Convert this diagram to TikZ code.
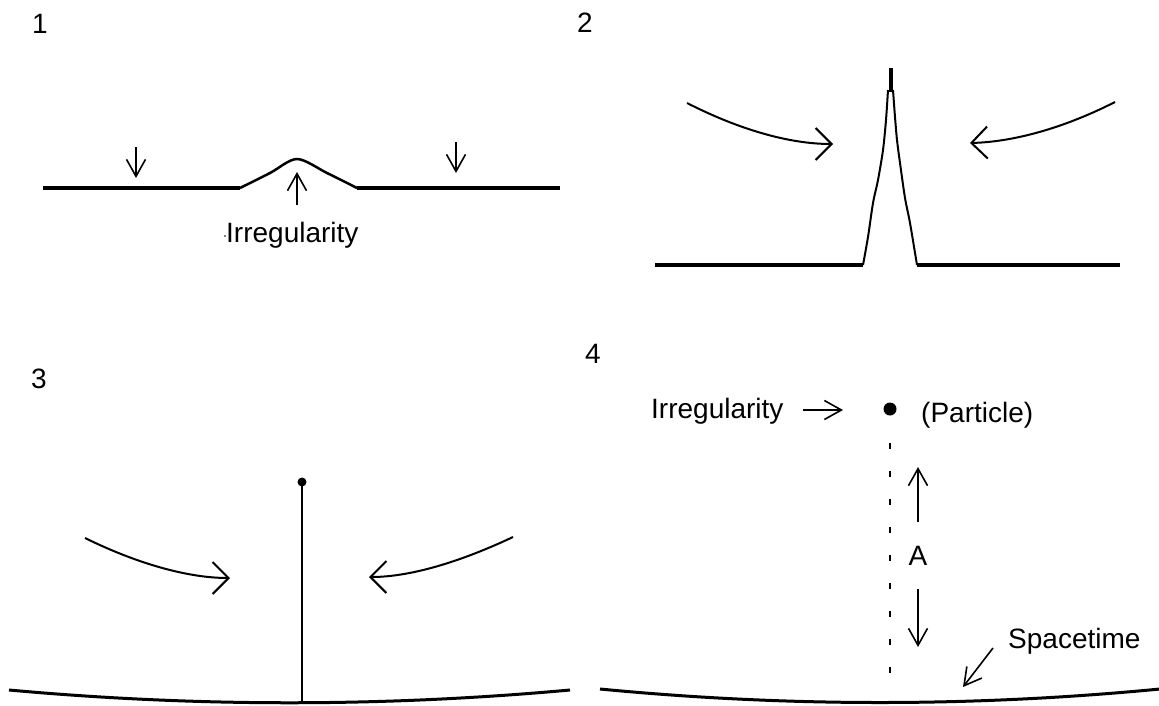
\documentclass[tikz,border=0pt]{standalone}
\usepackage{fontspec}
\setmainfont{Liberation Sans}
\usetikzlibrary{arrows.meta}
\begin{document}
\begin{tikzpicture}[x=1pt,y=-1pt,
  lbl/.style={inner sep=0pt, anchor=base, font=\fontsize{28}{32}\selectfont},
  lblw/.style={lbl, anchor=base west},
  ground/.style={line width=4pt},
  curveground/.style={line width=3pt},
  sa/.style={-{Straight Barb[length=17pt,width=19pt]}, line width=1.6pt},
  la/.style={-{Straight Barb[length=16pt,width=32pt]}, line width=2pt},
  spike/.style={line width=2pt, line join=round}]
\useasboundingbox (0,0) rectangle (1159,705);

% ---------- Panel 1 ----------
\node[lbl] (n1) at (40,33) {1};
\draw[ground] (43,188) -- (240,188);
\draw[ground] (357,188) -- (560,188);
\draw[line width=2.5pt, line join=round] plot[smooth, tension=0.5] coordinates {(240,188) (270,173) (297,159) (327,173) (357,188)};
\draw[sa] (136,147) -- (136,178);
\draw[sa] (456,142) -- (456,173);
\draw[sa] (297,205) -- (297,172);
\node[lblw] (irr1) at (226,242) {Irregularity};
\fill (225,236) circle (0.9);

% ---------- Panel 2 ----------
\node[lbl] (n2) at (585,32) {2};
\draw[ground] (655,265) -- (863,265);
\draw[ground] (917,265) -- (1120,265);
\draw[spike] plot[smooth, tension=0.5] coordinates {(863,265) (868,237) (873,203) (878,180) (883,150) (886,120) (888,90)};
\draw[spike] plot[smooth, tension=0.5] coordinates {(917,265) (910,223) (905,198) (900,163) (897,140) (895,117) (893,90)};
\draw[line width=3.5pt] (891,68) -- (891,92);
\draw[la] (687,103) .. controls (740,130) and (790,144) .. (833,144);
\draw[la] (1115,102) .. controls (1060,130) and (1010,142) .. (970,143);

% ---------- Panel 3 ----------
\node[lbl] (n3) at (39,388) {3};
\draw[curveground] (9,690) .. controls (196,707) and (383,707) .. (570,690);
\draw[line width=2pt] (302,482) -- (302,702);
\fill (302,482) circle (4.5);
\draw[la] (85,538) .. controls (140,565) and (190,578) .. (230,578);
\draw[la] (513,537) .. controls (460,562) and (410,577) .. (369,577);

% ---------- Panel 4 ----------
\node[lbl] (n4) at (593,363) {4};
\draw[curveground] (600,689) .. controls (787,707) and (973,707) .. (1160,689);
\node[circle, fill, inner sep=0pt, minimum size=13pt] (dot) at (890,409) {};
\node[lblw] (irr4) at (651,418) {Irregularity};
\draw[sa] (803,410) -- (843,410);
\node[lblw] (part) at (921,422) {(Particle)};
\draw[line width=2pt, dash pattern=on 6pt off 22pt] (890,443) -- (890,685);
\draw[sa] (918,522) -- (918,467);
\node[lbl] (A) at (918,565) {A};
\draw[sa] (918,589) -- (918,647);
\draw[sa] (993,648) -- (963,687);
\node[lblw] (st) at (1008,648) {Spacetime};
\end{tikzpicture}
\end{document}
